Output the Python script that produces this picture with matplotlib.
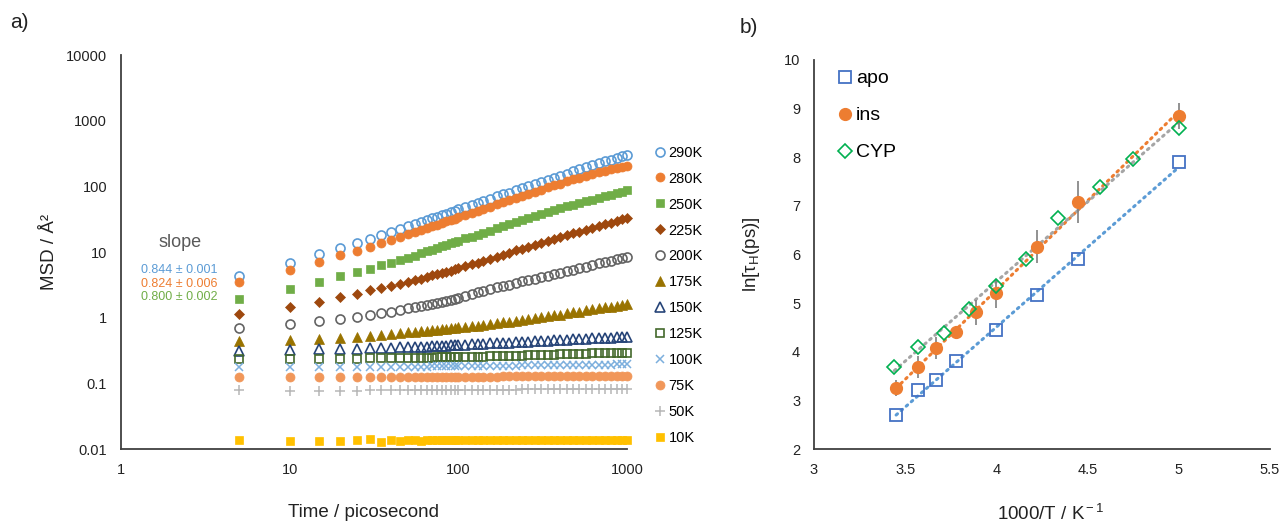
import matplotlib
matplotlib.use("Agg")
import matplotlib.pyplot as plt
from matplotlib import ticker
import numpy as np

plt.rcParams['font.family'] = ['Liberation Sans', 'DejaVu Sans']
plt.rcParams['mathtext.fontset'] = 'custom'
plt.rcParams['mathtext.rm'] = 'Liberation Sans'
plt.rcParams['mathtext.it'] = 'Liberation Sans:italic'

# ---- panel a) MSD vs time (read off the picture) ----
times = [5, 10, 15, 20, 25, 30, 35, 40, 45, 50,
         55, 60, 65, 70, 75, 80, 85, 90, 95, 100,
         110, 120, 130, 140, 155, 170, 185, 200, 220, 240, 260, 285, 310, 340,
         370, 400, 440, 480, 520, 570, 620, 680, 740, 800, 870, 940, 1000]

msd_290 = [4.3, 6.7, 9.3, 11.4, 13.9, 16.0, 18.0, 20.0, 22.5, 24.5,
           26.5, 28.5, 30.5, 32.5, 34.5, 36.5, 38.5, 40.5, 42.8, 45,
           49, 52.5, 56, 59.7, 65, 70.3, 75.4, 80.6, 87.3, 94, 100.4, 108.4, 116.3, 127,
           135, 144, 156, 170, 181, 195, 208.5, 224.5, 240, 256, 274, 291, 302]
msd_280 = [3.46, 5.33, 7.1, 8.9, 10.5, 12.1, 13.7, 15.3, 16.9, 18.5,
           20.1, 21.6, 23.1, 24.6, 26.1, 27.6, 29.2, 30.8, 32.3, 33.8,
           36.7, 39.5, 42.5, 45.2, 49.3, 53.5, 57.4, 61.3, 66.6, 72, 76.9, 83.1, 89.4, 97,
           103.8, 110.5, 119, 128, 136, 145.5, 155, 164.5, 173.3, 181, 189.5, 198, 206]
msd_250 = [1.93, 2.71, 3.53, 4.3, 4.9, 5.6, 6.3, 6.9, 7.6, 8.1,
           8.85, 9.6, 10.25, 10.9, 11.55, 12.2, 12.9, 13.6, 14.25, 14.9,
           16.1, 17.2, 18.4, 19.5, 21.2, 23, 24.7, 26.3, 28.7, 30.9, 32.9, 35.5, 37.8, 41,
           43.9, 46.7, 49.8, 52.8, 55.8, 59.3, 62.8, 67, 70.9, 74.7, 79.1, 83.4, 86.5]
msd_225 = [1.14, 1.44, 1.75, 2.05, 2.33, 2.6, 2.83, 3.05, 3.27, 3.5,
           3.73, 3.95, 4.18, 4.4, 4.6, 4.8, 5.0, 5.2, 5.43, 5.65,
           6.07, 6.49, 6.9, 7.3, 7.88, 8.5, 9.15, 9.78, 10.58, 11.3, 12.0, 12.92, 13.83, 14.9,
           15.84, 16.8, 18.1, 19.3, 20.4, 21.85, 23.2, 24.8, 26.4, 27.9, 29.6, 31.3, 32.5]
msd_200 = [0.69, 0.80, 0.88, 0.96, 1.03, 1.10, 1.17, 1.24, 1.31, 1.38,
           1.45, 1.52, 1.58, 1.64, 1.70, 1.76, 1.82, 1.88, 1.95, 2.02,
           2.15, 2.29, 2.42, 2.55, 2.73, 2.91, 3.06, 3.2, 3.39, 3.57, 3.74, 3.95, 4.15, 4.38,
           4.61, 4.82, 5.1, 5.4, 5.67, 6.0, 6.33, 6.7, 7.05, 7.4, 7.8, 8.15, 8.5]
msd_175 = [0.44, 0.455, 0.47, 0.49, 0.51, 0.53, 0.55, 0.57, 0.585, 0.6,
           0.61, 0.62, 0.633, 0.645, 0.655, 0.665, 0.678, 0.69, 0.70, 0.71,
           0.727, 0.743, 0.76, 0.775, 0.797, 0.82, 0.847, 0.87, 0.896, 0.92, 0.947, 0.98, 1.01, 1.05,
           1.08, 1.11, 1.16, 1.2, 1.24, 1.29, 1.34, 1.39, 1.44, 1.48, 1.53, 1.58, 1.62]
msd_150 = [0.316, 0.322, 0.328, 0.333, 0.337, 0.341, 0.345, 0.348, 0.352, 0.355,
           0.357, 0.36, 0.363, 0.366, 0.369, 0.372, 0.375, 0.378, 0.381, 0.384,
           0.388, 0.392, 0.396, 0.4, 0.405, 0.409, 0.413, 0.417, 0.422, 0.426, 0.43, 0.435, 0.44, 0.445,
           0.45, 0.455, 0.461, 0.466, 0.471, 0.476, 0.482, 0.488, 0.493, 0.497, 0.502, 0.506, 0.51]
msd_125 = [0.235, 0.235, 0.236, 0.238, 0.239, 0.24, 0.241, 0.242, 0.243, 0.243,
           0.244, 0.245, 0.246, 0.247, 0.248, 0.249, 0.25, 0.25, 0.251, 0.252,
           0.253, 0.254, 0.255, 0.256, 0.257, 0.259, 0.26, 0.261, 0.263, 0.265, 0.266, 0.268, 0.27, 0.272,
           0.274, 0.276, 0.277, 0.279, 0.281, 0.283, 0.285, 0.286, 0.288, 0.289, 0.291, 0.292, 0.293]
msd_100 = [0.18, 0.176, 0.176, 0.176, 0.177, 0.177, 0.178, 0.178, 0.179, 0.18,
           0.18, 0.18, 0.18, 0.181, 0.181, 0.181, 0.181, 0.182, 0.182, 0.182,
           0.183, 0.183, 0.184, 0.184, 0.185, 0.185, 0.186, 0.186, 0.186, 0.187, 0.187, 0.188, 0.188, 0.189,
           0.189, 0.19, 0.19, 0.19, 0.191, 0.191, 0.192, 0.192, 0.193, 0.193, 0.194, 0.194, 0.195]
msd_75 = [0.126, 0.124, 0.124, 0.124, 0.125, 0.125, 0.125, 0.125, 0.126, 0.126,
          0.126, 0.126, 0.126, 0.126, 0.126, 0.126, 0.126, 0.126, 0.126, 0.126,
          0.126, 0.127, 0.127, 0.127, 0.127, 0.127, 0.128, 0.128, 0.128, 0.128, 0.128, 0.128, 0.129, 0.129,
          0.129, 0.129, 0.13, 0.13, 0.13, 0.13, 0.13, 0.13, 0.13, 0.131, 0.131, 0.131, 0.131]
msd_50 = [0.079, 0.077, 0.077, 0.077, 0.077, 0.078, 0.078, 0.078, 0.078, 0.078,
          0.078, 0.079, 0.079, 0.079, 0.079, 0.079, 0.079, 0.079, 0.079, 0.079,
          0.079, 0.08, 0.08, 0.08, 0.08, 0.08, 0.08, 0.08, 0.08, 0.081, 0.081, 0.081, 0.081, 0.081,
          0.081, 0.081, 0.082, 0.082, 0.082, 0.082, 0.082, 0.082, 0.083, 0.083, 0.083, 0.083, 0.083]
msd_10 = [0.0138, 0.0132, 0.0134, 0.0134, 0.0138, 0.0141, 0.0128, 0.0136, 0.0133, 0.0137,
          0.0135, 0.0134, 0.0136, 0.0135, 0.0136, 0.0135, 0.0137, 0.0136, 0.0135, 0.0136,
          0.0136, 0.0137, 0.0136, 0.0137, 0.0136, 0.0137, 0.0137, 0.0136, 0.0137, 0.0137, 0.0137, 0.0136, 0.0137, 0.0137,
          0.0137, 0.0137, 0.0138, 0.0137, 0.0137, 0.0137, 0.0138, 0.0137, 0.0137, 0.0137, 0.0138, 0.0137, 0.0137]

temp_labels = ["290K", "280K", "250K", "225K", "200K", "175K", "150K", "125K", "100K", "75K", "50K", "10K"]
msd_all = [msd_290, msd_280, msd_250, msd_225, msd_200, msd_175, msd_150, msd_125, msd_100, msd_75, msd_50, msd_10]

slope_texts = ["0.844 \u00b1 0.001", "0.824 \u00b1 0.006", "0.800 \u00b1 0.002"]

# ---- panel b) ln(tau_H) vs 1000/T ----
apo_x = [3.45, 3.57, 3.67, 3.78, 4.0, 4.22, 4.45, 5.0]
apo_y = [2.70, 3.21, 3.41, 3.80, 4.44, 5.16, 5.90, 7.90]
ins_x = [3.45, 3.57, 3.67, 3.78, 3.89, 4.0, 4.22, 4.45, 5.0]
ins_y = [3.26, 3.69, 4.08, 4.41, 4.81, 5.20, 6.16, 7.08, 8.85]
ins_err = [0.16, 0.22, 0.23, 0.12, 0.26, 0.30, 0.34, 0.44, 0.27]
cyp_x = [3.44, 3.57, 3.71, 3.85, 4.0, 4.16, 4.34, 4.57, 4.75, 5.0]
cyp_y = [3.69, 4.09, 4.39, 4.87, 5.36, 5.90, 6.75, 7.39, 7.96, 8.60]

# marker, colour, filled, size
styles = [("o", "#5B9BD5", False, 6.5),
          ("o", "#ED7D31", True, 6.5),
          ("s", "#70AD47", True, 6),
          ("D", "#9E480E", True, 5),
          ("o", "#636363", False, 6.5),
          ("^", "#997300", True, 6.5),
          ("^", "#264478", False, 6.5),
          ("s", "#43682B", False, 6),
          ("x", "#7CAFDD", True, 6),
          ("o", "#F1975A", True, 6.5),
          ("+", "#B7B7B7", True, 6.5),
          ("s", "#FFC000", True, 6)]

fig = plt.figure(figsize=(12.87, 5.24), dpi=100)
axA = fig.add_axes([0.0940, 0.1431, 0.3932, 0.7519])
axB = fig.add_axes([0.6325, 0.1431, 0.3543, 0.7424])

spine_col = "#404040"
for ax in (axA, axB):
    for s in ("top", "right"):
        ax.spines[s].set_visible(False)
    for s in ("left", "bottom"):
        ax.spines[s].set_color(spine_col)
        ax.spines[s].set_linewidth(1.3)
    ax.tick_params(length=0, labelsize=10.5, colors="#404040", labelcolor="#222222")

for vals, lab, (mk, col, filled, ms) in zip(msd_all, temp_labels, styles):
    if mk in ("x", "+"):
        axA.plot(times, vals, linestyle="none", marker=mk, color=col, ms=ms,
                 mew=1.1, label=lab, clip_on=False)
    elif filled:
        axA.plot(times, vals, linestyle="none", marker=mk, mfc=col, mec=col, ms=ms,
                 mew=0.5, label=lab, clip_on=False)
    else:
        axA.plot(times, vals, linestyle="none", marker=mk, mfc="none", mec=col, ms=ms,
                 mew=1.2, label=lab, clip_on=False)

axA.set_xscale("log")
axA.set_yscale("log")
axA.set_xlim(1, 1000)
axA.set_ylim(0.01, 10000)
axA.xaxis.set_major_locator(ticker.FixedLocator([1, 10, 100, 1000]))
axA.yaxis.set_major_locator(ticker.FixedLocator([0.01, 0.1, 1, 10, 100, 1000, 10000]))
axA.xaxis.set_minor_locator(ticker.NullLocator())
axA.yaxis.set_minor_locator(ticker.NullLocator())
fmt = ticker.FuncFormatter(lambda v, _: f"{v:g}")
axA.xaxis.set_major_formatter(fmt)
axA.yaxis.set_major_formatter(fmt)
axA.tick_params(axis="y", pad=10)
axA.tick_params(axis="x", pad=10)

axA.set_xlabel("Time / picosecond", fontsize=13.5, color="#222222")
axA.set_ylabel("MSD / \u00c5\u00b2", fontsize=13.5, color="#222222")
axA.xaxis.set_label_coords(0.48, -0.14)
axA.yaxis.set_label_coords(-0.125, 0.5)

axA.legend(loc="upper left", bbox_to_anchor=(1.056, 0.77), frameon=False,
           fontsize=10.5, handlelength=0.6, handletextpad=0.3, labelspacing=0.82,
           borderaxespad=0, borderpad=0)

axA.text(0.117, 0.525, "slope", transform=axA.transAxes, ha="center", va="center",
         fontsize=13, color="#595959")
slope_cols = ["#5B9BD5", "#ED7D31", "#70AD47"]
for i, (txt, col) in enumerate(zip(slope_texts, slope_cols)):
    axA.text(0.039, 0.454 - i * 0.034, txt, transform=axA.transAxes, ha="left",
             va="center", fontsize=9, color=col)

# panel b
def trend(ax, x, y, col):
    k, b = np.polyfit(x, y, 1)
    xs = np.array([min(x), max(x)])
    ax.plot(xs, k * xs + b, linestyle=(0, (0.6, 1.6)), color=col, lw=2.2,
            dash_capstyle="round", zorder=1)

trend(axB, apo_x, apo_y, "#5B9BD5")
trend(axB, ins_x, ins_y, "#ED7D31")
trend(axB, cyp_x, cyp_y, "#A5A5A5")

axB.errorbar(ins_x, ins_y, yerr=ins_err, fmt="none", ecolor="#7F7F7F", elinewidth=1.2,
             capsize=0, zorder=2)
axB.plot(apo_x, apo_y, linestyle="none", marker="s", mfc="none", mec="#4472C4",
         ms=8, mew=1.3, label="apo", zorder=3)
axB.plot(ins_x, ins_y, linestyle="none", marker="o", mfc="#ED7D31", mec="#ED7D31",
         ms=8.5, label="ins", zorder=3)
axB.plot(cyp_x, cyp_y, linestyle="none", marker="D", mfc="none", mec="#00B050",
         ms=7, mew=1.2, label="CYP", zorder=3)

axB.set_xlim(3, 5.5)
axB.set_ylim(2, 10)
axB.xaxis.set_major_locator(ticker.MultipleLocator(0.5))
axB.yaxis.set_major_locator(ticker.MultipleLocator(1))
axB.xaxis.set_major_formatter(fmt)
axB.yaxis.set_major_formatter(fmt)
axB.tick_params(axis="y", pad=10)
axB.tick_params(axis="x", pad=10)
axB.set_xlabel("1000/T / K$^{\\rm -1}$", fontsize=13.5, color="#222222")
axB.set_ylabel("ln[\u03c4$_{\\rm H}$(ps)]", fontsize=13.5, color="#222222")
axB.xaxis.set_label_coords(0.52, -0.14)
axB.yaxis.set_label_coords(-0.114, 0.5)

axB.legend(loc="upper left", bbox_to_anchor=(0.052, 0.975), frameon=False, fontsize=14,
           handlelength=0.7, handletextpad=0.25, labelspacing=1.0,
           borderaxespad=0, borderpad=0)

fig.text(0.008, 0.958, "a)", fontsize=15, color="#222222", va="center")
fig.text(0.575, 0.947, "b)", fontsize=15, color="#222222", va="center")

fig.savefig("out.png", dpi=100)
